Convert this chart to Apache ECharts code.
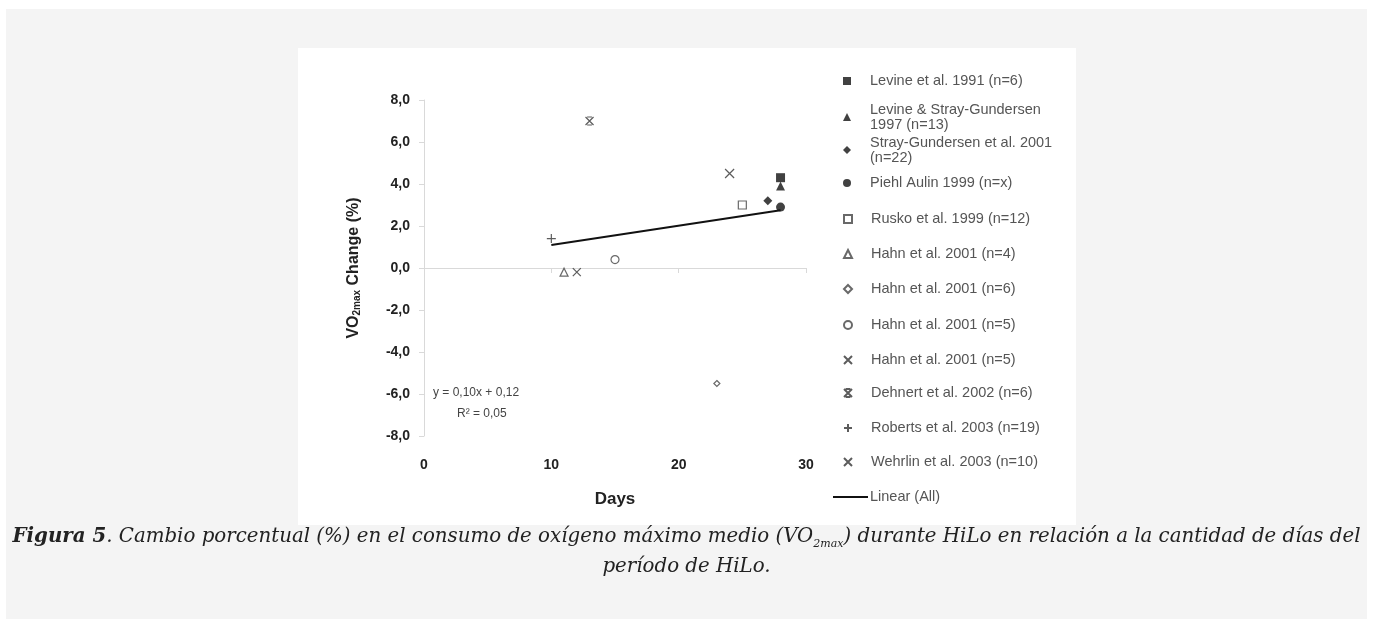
<!DOCTYPE html>
<html>
<head>
<meta charset="utf-8">
<script src="https://cdn.jsdelivr.net/npm/echarts@6/dist/echarts.min.js"></script>
<style>
  body { margin: 0; background: #fff; }
  #panel { position: absolute; left: 6px; top: 9px; width: 1361px; height: 610px; background: #f4f4f4; }
  #chart { position: absolute; left: 292px; top: 39px; width: 778px; height: 477px; background: #fff; }
  .caption {
    position: absolute; left: 0; top: 511px; width: 100%;
    text-align: center; font-family: "DejaVu Serif", serif; font-style: italic;
    font-size: 19.8px; line-height: 30px; color: #222;
  }
  .caption sub { font-size: 11px; line-height: 0; }
</style>
</head>
<body>
<div id="panel">
  <div id="chart"></div>
  <div class="caption"><b>Figura 5</b>. Cambio porcentual (%) en el consumo de oxígeno máximo medio (VO<sub>2max</sub>) durante HiLo en relación a la cantidad de días del<br>período de HiLo.</div>
</div>
<script>
  // estudios (nombre de la leyenda), días de HiLo y cambio de VO2max (%)
  const studyNames = [
    'Levine et al. 1991 (n=6)',
    'Levine & Stray-Gundersen\n1997 (n=13)',
    'Stray-Gundersen et al. 2001\n(n=22)',
    'Piehl Aulin 1999 (n=x)',
    'Rusko et al. 1999 (n=12)',
    'Hahn et al. 2001 (n=4)',
    'Hahn et al. 2001 (n=6)',
    'Hahn et al. 2001 (n=5)',
    'Hahn et al. 2001 (n=5) ',
    'Dehnert et al. 2002 (n=6)',
    'Roberts et al. 2003 (n=19)',
    'Wehrlin et al. 2003 (n=10)'
  ]
  const studyDays = [28, 28, 27, 28, 25, 11, 23, 15, 12, 13, 10, 24]
  const studyChange = [4.3, 3.9, 3.2, 2.9, 3.0, -0.2, -5.5, 0.4, -0.2, 7.0, 1.4, 4.5]

  const trendName = 'Linear (All)'
  const trendDays = [10, 28]
  const trendChange = [1.1, 2.75]

  const xTicks = [0, 30, 10]   // min, max, interval
  const yTicks = [-8, 8, 2]

  // marcadores tipo Excel
  const X_PATH = 'path://M0,0L10,10M10,0L0,10'
  const STAR_PATH = 'path://M0,0L10,10M10,0L0,10M2,0L8,0M2,10L8,10'
  const PLUS_PATH = 'path://M5,0L5,10M0,5L10,5'
  const filled = { color: '#111' }
  const open = { color: '#fff', borderColor: '#444', borderWidth: 1.2 }
  const stroke = { color: '#333', borderColor: '#333', borderWidth: 1.2 }
  const markers = [
    { symbol: 'rect', size: 9, style: filled },
    { symbol: 'triangle', size: 9, style: filled },
    { symbol: 'diamond', size: 9, style: filled },
    { symbol: 'circle', size: 9, style: filled },
    { symbol: 'rect', size: 8, style: open },
    { symbol: 'triangle', size: 8, style: open },
    { symbol: 'diamond', size: 6, style: open },
    { symbol: 'circle', size: 8, style: open },
    { symbol: X_PATH, size: 8, style: stroke },
    { symbol: STAR_PATH, size: 8, style: stroke },
    { symbol: PLUS_PATH, size: 9, style: stroke },
    { symbol: X_PATH, size: 9, style: stroke }
  ]
  // centro vertical de cada fila de la leyenda (px dentro del gráfico)
  const legendRows = [33, 69, 102, 135, 171, 206, 241, 277, 312, 345, 380, 414, 449]

  const comma = v => v.toFixed(1).replace('.', ',')

  const series = studyNames.map((name, i) => ({
    name: name,
    type: 'scatter',
    symbol: markers[i].symbol,
    symbolSize: markers[i].size,
    itemStyle: markers[i].style,
    emphasis: { disabled: true },
    data: [[studyDays[i], studyChange[i]]]
  }))
  series.push({
    name: trendName,
    type: 'line',
    symbol: 'none',
    lineStyle: { color: '#111', width: 2 },
    itemStyle: { color: '#111' },
    emphasis: { disabled: true },
    data: trendDays.map((d, i) => [d, trendChange[i]])
  })

  const legendText = { fontFamily: 'Liberation Sans', fontSize: 14.5, color: '#555', lineHeight: 15 }
  const legends = studyNames.map((name, i) => {
    const twoLines = name.indexOf('\n') >= 0
    return {
      data: [name],
      left: 545,
      top: legendRows[i] - (twoLines ? 22.5 : 7.5),
      padding: 0,
      itemWidth: 8,
      itemHeight: 8,
      selectedMode: false,
      textStyle: Object.assign({}, legendText, { padding: twoLines ? [15, 0, 0, 14] : [0, 0, 0, 14] })
    }
  })
  legends.push({
    data: [{ name: trendName, itemStyle: { opacity: 0 } }],
    left: 534,
    top: legendRows[12] - 7.5,
    padding: 0,
    itemWidth: 35,
    itemHeight: 8,
    selectedMode: false,
    lineStyle: { color: '#111', width: 2 },
    textStyle: Object.assign({}, legendText, { padding: [0, 0, 0, -3] })
  })

  const chart = echarts.init(document.getElementById('chart'))
  chart.setOption({
    animation: false,
    grid: { left: 126, top: 52, width: 382, height: 336 },
    legend: legends,
    xAxis: {
      type: 'value',
      min: xTicks[0], max: xTicks[1], interval: xTicks[2],
      name: 'Days',
      nameLocation: 'middle',
      nameGap: 55,
      nameTextStyle: { fontFamily: 'Liberation Sans', fontWeight: 'bold', fontSize: 17, color: '#222' },
      axisLine: { lineStyle: { color: '#d9d9d9', width: 1 } },
      axisTick: { show: true, length: 5, lineStyle: { color: '#d9d9d9' } },
      axisLabel: { margin: 22, fontFamily: 'Liberation Sans', fontWeight: 'bold', fontSize: 14, color: '#222' },
      splitLine: { show: false }
    },
    yAxis: {
      type: 'value',
      min: yTicks[0], max: yTicks[1], interval: yTicks[2],
      name: '{a|VO}{b|2max}{a| Change (%)}',
      nameLocation: 'middle',
      nameGap: 62,
      nameTextStyle: {
        rich: {
          a: { fontFamily: 'Liberation Sans', fontWeight: 'bold', fontSize: 16, color: '#222', verticalAlign: 'bottom', lineHeight: 18 },
          b: { fontFamily: 'Liberation Sans', fontWeight: 'bold', fontSize: 10, color: '#222', verticalAlign: 'bottom', lineHeight: 14 }
        }
      },
      axisLine: { show: true, lineStyle: { color: '#d9d9d9', width: 1 } },
      axisTick: { show: true, length: 5, lineStyle: { color: '#d9d9d9' } },
      axisLabel: { margin: 14, formatter: comma, fontFamily: 'Liberation Sans', fontWeight: 'bold', fontSize: 14, color: '#222' },
      splitLine: { show: false }
    },
    graphic: [
      { type: 'text', left: 135, top: 339, style: { text: 'y = 0,10x + 0,12', font: '12px "Liberation Sans"', fill: '#444' } },
      { type: 'text', left: 159, top: 360, style: { text: 'R² = 0,05', font: '12px "Liberation Sans"', fill: '#444' } }
    ],
    series: series
  })
</script>
</body>
</html>
